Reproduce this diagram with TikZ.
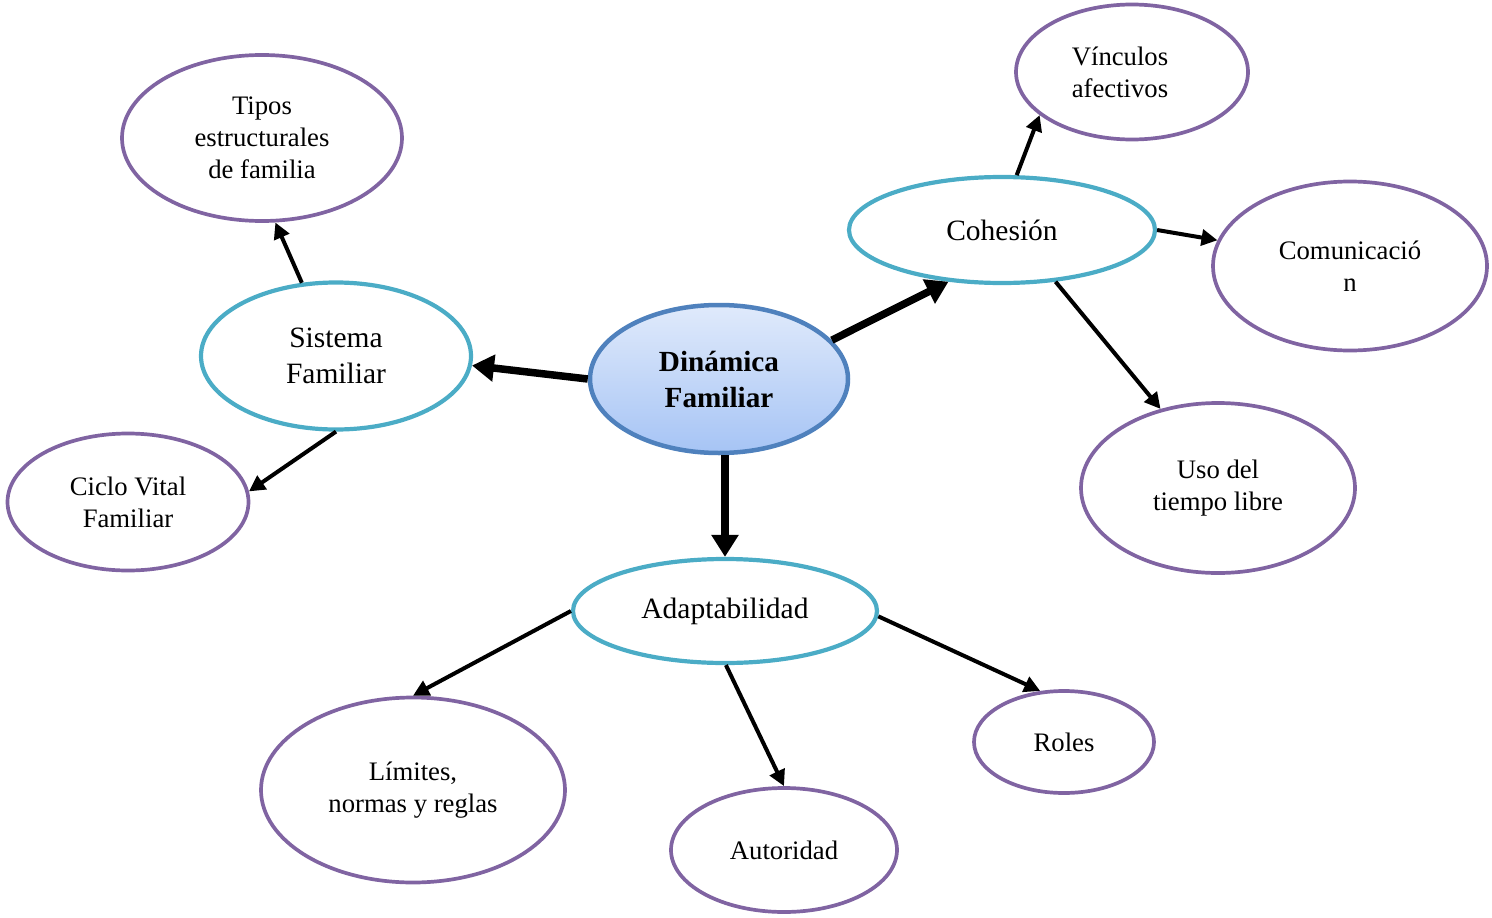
\documentclass[tikz,border=0pt]{standalone}
\usepackage{fontspec}
\setmainfont{Liberation Serif}
\usetikzlibrary{shapes.geometric,arrows.meta}
\definecolor{purp}{HTML}{8064A2}
\definecolor{teal2}{HTML}{4BACC6}
\definecolor{blueb}{HTML}{4F81BD}
\tikzset{
  leaf/.style={ellipse,draw=purp,line width=3.7pt,inner sep=0pt,align=center,
    font=\fontsize{26.7}{32}\selectfont},
  mid/.style={ellipse,draw=teal2,line width=4.2pt,inner sep=0pt,align=center,
    font=\fontsize{29.5}{36}\selectfont},
  core/.style={ellipse,draw=blueb,line width=4.5pt,inner sep=0pt,align=center,
    top color={rgb,255:red,224;green,234;blue,251}, bottom color={rgb,255:red,166;green,196;blue,245},
    font=\fontsize{29.2}{36}\selectfont\bfseries},
  thin/.style={line width=4pt,-{Triangle[length=16pt,width=16pt]}},
  thick/.style={line width=7.5pt,-{Triangle[length=22pt,width=26pt]}},
}
\begin{document}
\begin{tikzpicture}[x=1pt,y=-1pt]
\useasboundingbox (0,0) rectangle (1492,918);
\node[core,minimum width=258pt,minimum height=148pt] (dyn) at (719,379) {Dinámica\\Familiar};
\node[mid,minimum width=270pt,minimum height=147pt] (sis) at (336,356) {Sistema\\Familiar};
\node[mid,minimum width=306pt,minimum height=106pt] (coh) at (1002,230) {Cohesión};
\node[mid,minimum width=304pt,minimum height=104pt] (ada) at (725,611) {Adaptabilidad};
\node[leaf,minimum width=280pt,minimum height=166pt] (tip) at (262,138) {Tipos\\estructurales\\de familia};
\node[leaf,minimum width=241pt,minimum height=137pt] (cic) at (128,502) {Ciclo Vital\\Familiar};
\node[leaf,minimum width=232pt,minimum height=135pt] (vin) at (1132,72) {Vínculos\hspace*{24pt}\\afectivos\hspace*{24pt}};
\node[leaf,minimum width=274pt,minimum height=169pt] (com) at (1350,266) {Comunicació\\n};
\node[leaf,minimum width=274pt,minimum height=170pt] (uso) at (1218,488) {Uso del\\tiempo libre};
\node[leaf,minimum width=304pt,minimum height=185pt] (lim) at (413,790) {Límites,\\normas y reglas};
\node[leaf,minimum width=226pt,minimum height=124pt] (aut) at (784,850) {Autoridad};
\node[leaf,minimum width=180pt,minimum height=102pt] (rol) at (1064,742) {Roles};
% thick arrows
\draw[thick] (dyn.180) -- (sis.-4);
\draw[thick] (dyn.19) -- (coh.224);
\draw[thick] (ada.north |- dyn.south) -- (ada.north);
% thin arrows
\draw[thin] (sis.115) -- (tip.-81);
\draw[thin] (sis.south) -- (cic.5);
\draw[thin] (coh.75) -- (vin.205);
\draw[thin] (coh.east) -- (com.169);
\draw[thin] (coh.-44) -- (uso.126);
\draw[thin] (ada.west) -- (lim.north);
\draw[thin] (ada.-89) -- (aut.north);
\draw[thin] (ada.-2) -- (rol.115);
\end{tikzpicture}
\end{document}
